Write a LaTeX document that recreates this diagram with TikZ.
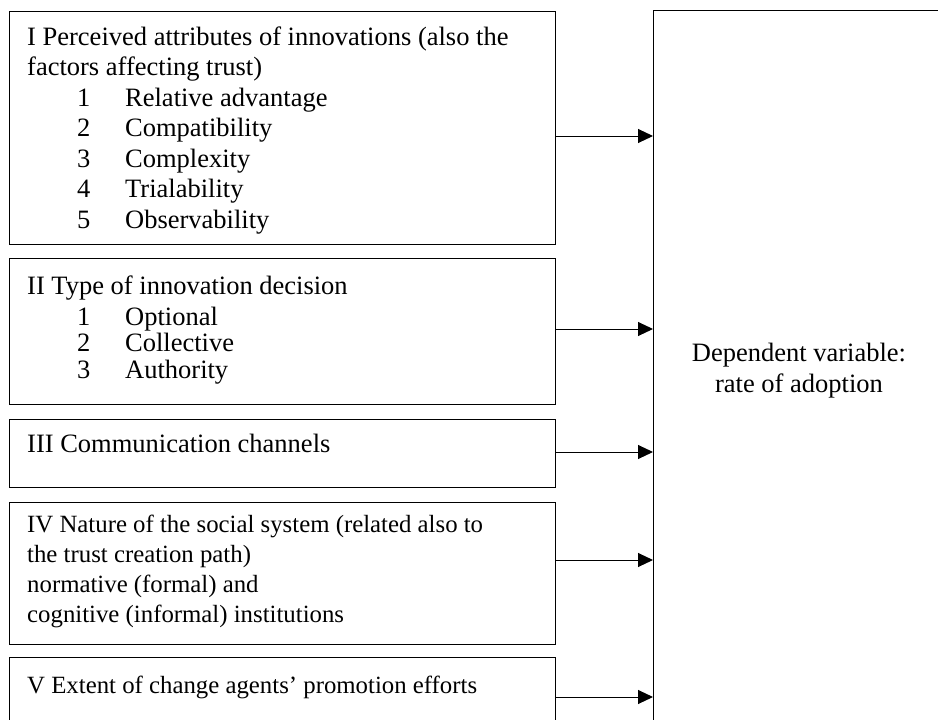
\documentclass[tikz,border=0pt]{standalone}
\usepackage{fontspec}
\setmainfont{Liberation Serif}
\usetikzlibrary{arrows.meta}

\newcommand{\listentry}[2]{\hspace*{50pt}\makebox[48pt][l]{#1}#2}

\begin{document}
\begin{tikzpicture}[x=1pt,y=-1pt,
    factor/.style={draw, line width=1pt, anchor=north west, minimum width=546pt, inner sep=0pt},
    txt/.style={anchor=base west, inner sep=0pt, align=left, font=\fontsize{26.5}{30.5}\selectfont},
    small/.style={font=\fontsize{24.8}{30}\selectfont},
    arr/.style={-{Triangle[length=15pt,width=14pt]}, line width=1pt}]
    \useasboundingbox (0,0) rectangle (938,720);
    \node[factor, minimum height=233pt] (f1) at (9,11) {};
    \node[factor, minimum height=146pt] (f2) at (9,258) {};
    \node[factor, minimum height=68pt] (f3) at (9,419) {};
    \node[factor, minimum height=142pt] (f4) at (9,502) {};
    \node[factor, minimum height=100pt] (f5) at (9,657) {};
    \node[draw, line width=1.4pt, anchor=north west, minimum width=400pt, minimum height=760pt] (dep) at (653,10) {};
    % base anchor = last line
    \node[txt] (t1) at (27,228) {I Perceived attributes of innovations (also the\\factors affecting trust)\\\listentry{1}{Relative advantage}\\\listentry{2}{Compatibility}\\\listentry{3}{Complexity}\\\listentry{4}{Trialability}\\\listentry{5}{Observability}};
    \node[txt, font=\fontsize{26.5}{26.7}\selectfont] (t2) at (27,378.4) {II Type of innovation decision\\[4.3pt]\listentry{1}{Optional}\\\listentry{2}{Collective}\\\listentry{3}{Authority}};
    \node[txt] (t3) at (27,452) {III Communication channels};
    \node[txt, small] (t4) at (27,622) {IV Nature of the social system (related also to\\the trust creation path)\\normative (formal) and\\cognitive (informal) institutions};
    \node[txt, small] (t5) at (27,693) {V Extent of change agents’ promotion efforts};
    \node[txt, align=center, anchor=base] (lbl) at (799,392) {Dependent variable:\\rate of adoption};
    \foreach \i/\d in {1/125,2/71,3/33,4/58,5/40} {
        \coordinate (a\i) at ([yshift=-\d pt]f\i.north east);
        \draw[arr] (a\i) -- (a\i -| dep.west);
    }
\end{tikzpicture}
\end{document}
